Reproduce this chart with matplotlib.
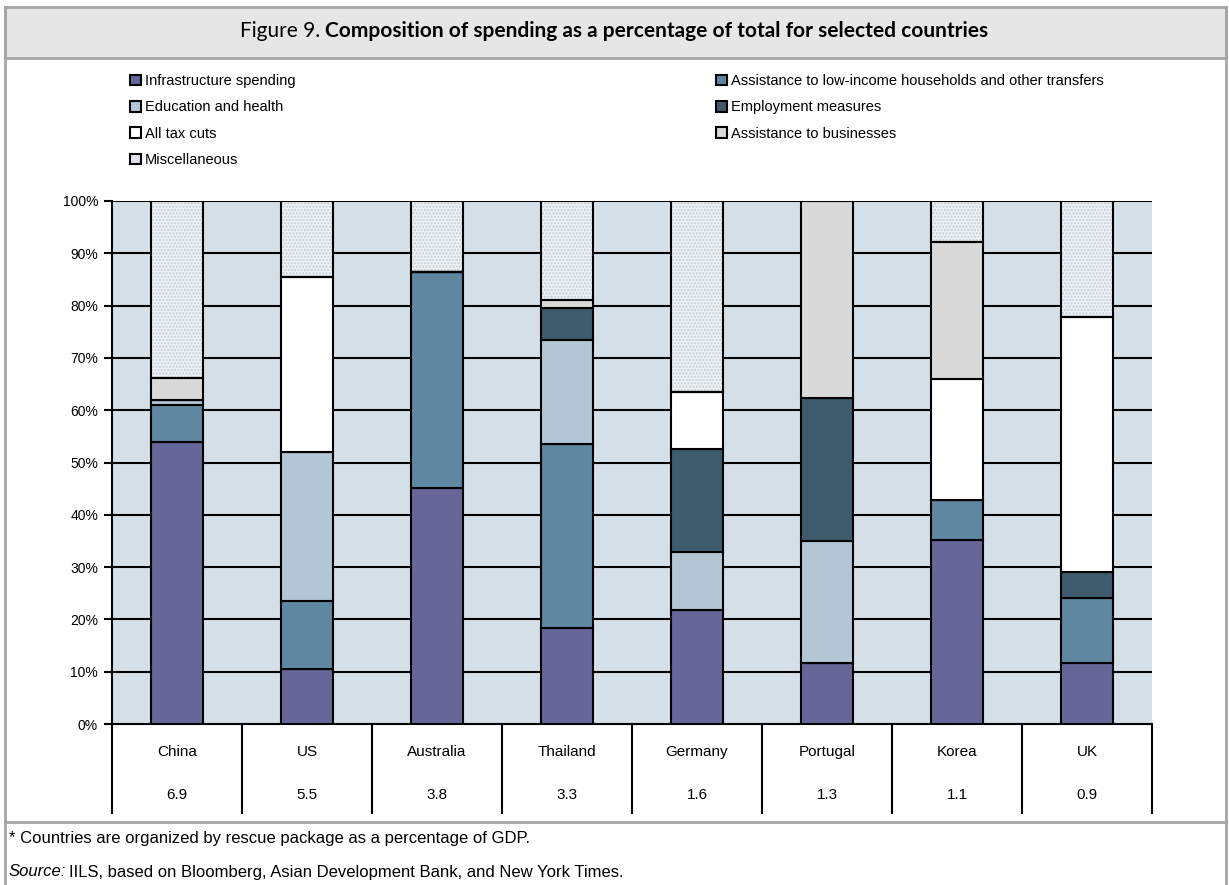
import numpy as np
import matplotlib.pyplot as plt
from matplotlib.patches import Rectangle, Patch
from matplotlib.lines import Line2D

W, H = 1229, 885

countries = ['China', 'US', 'Australia', 'Thailand', 'Germany', 'Portugal', 'Korea', 'UK']
gdp_share = ['6.9', '5.5', '3.8', '3.3', '1.6', '1.3', '1.1', '0.9']

# % of total package, bottom -> top
infrastructure = [54.0, 10.5, 45.2, 18.3, 21.8, 11.6, 35.2, 11.6]
low_income     = [7.0, 13.0, 41.3, 35.3, 0.0, 0.0, 7.6, 12.4]
education      = [1.0, 28.6, 0.0, 19.9, 11.0, 23.3, 0.0, 0.0]
employment     = [0.0, 0.0, 0.0, 6.0, 19.7, 27.5, 0.0, 5.0]
tax_cuts       = [0.0, 33.3, 0.0, 0.0, 10.9, 0.0, 23.1, 48.9]
businesses     = [4.1, 0.0, 0.0, 1.6, 0.0, 37.6, 26.3, 0.0]
misc           = [33.9, 14.6, 13.5, 18.9, 36.6, 0.0, 7.8, 22.1]

series = [
    ('Infrastructure spending', infrastructure, '#666699'),
    ('Assistance to low-income households and other transfers', low_income, '#5F87A1'),
    ('Education and health', education, '#B3C6D6'),
    ('Employment measures', employment, '#3E5A6D'),
    ('All tax cuts', tax_cuts, '#FFFFFF'),
    ('Assistance to businesses', businesses, '#D9D9D9'),
    ('Miscellaneous', misc, '#EDF1F4'),
]

narrow = ['Liberation Sans Narrow', 'Liberation Sans', 'DejaVu Sans']
arial = ['Liberation Sans', 'DejaVu Sans']


def fx(x):
    return x / W


def fy(y):
    return 1 - y / H


fig = plt.figure(figsize=(W / 100, H / 100), dpi=100)

# frame, title band and footnote separator
frame_c = '#A6A6A6'
fig.patches.append(Rectangle((fx(5), fy(58)), fx(1226) - fx(5), fy(7) - fy(58),
                             transform=fig.transFigure, facecolor='#E6E6E6',
                             edgecolor=frame_c, lw=2, zorder=0))
for x0, y0, x1, y1 in [(5, 7, 5, 885), (1226, 7, 1226, 885), (5, 822, 1226, 822)]:
    fig.add_artist(Line2D([fx(x0), fx(x1)], [fy(y0), fy(y1)], color=frame_c, lw=2,
                          transform=fig.transFigure))

# title: regular prefix + bold main part, centred together
t_font = ['Lato', 'DejaVu Sans']
t1 = fig.text(0, fy(31), 'Figure 9. ', fontsize=15, family=t_font, va='center')
t2 = fig.text(0, fy(31), 'Composition of spending as a percentage of total for selected countries',
              fontsize=15, family=t_font, fontweight='bold', va='center')
fig.canvas.draw()
r = fig.canvas.get_renderer()
w1 = t1.get_window_extent(r).width
w2 = t2.get_window_extent(r).width
x_start = (614 - (w1 + w2) / 2)
t1.set_x(fx(x_start))
t2.set_x(fx(x_start + w1))

ax = fig.add_axes([fx(112), fy(724), fx(1152) - fx(112), fy(201) - fy(724)])
ax.set_facecolor('#D5DFE8')
x = np.arange(len(countries))
ax.set_xlim(-0.5, len(countries) - 0.5)
ax.set_ylim(0, 100)

for yv in range(10, 101, 10):
    ax.axhline(yv, color='black', lw=1.5, zorder=1)

bottom = np.zeros(len(countries))
for name, vals, col in series:
    vals = np.array(vals)
    if name == 'Miscellaneous':
        ax.bar(x, vals, 0.4, bottom=bottom, color=col, edgecolor='#C3CDD6',
               hatch='.....', lw=0, zorder=2)
        ax.bar(x, vals, 0.4, bottom=bottom, fill=False, edgecolor='black', lw=1.5, zorder=3)
    else:
        ax.bar(x, vals, 0.4, bottom=bottom, color=col, edgecolor='black', lw=1.5, zorder=3)
    bottom += vals

ax.set_yticks(range(0, 101, 10))
ax.set_yticklabels([f'{v}%' for v in range(0, 101, 10)], family=arial, fontsize=10)
ax.tick_params(axis='y', direction='out', length=6, width=1.5, color='black', pad=4)
ax.set_xticks([])
for s in ['top', 'right']:
    ax.spines[s].set_visible(False)
for s in ['left', 'bottom']:
    ax.spines[s].set_linewidth(1.5)
    ax.spines[s].set_color('black')

# data table under the axis
tr = ax.get_xaxis_transform()
for b in np.arange(-0.5, len(countries), 1.0):
    ax.plot([b, b], [0, -0.17], transform=tr, color='black', lw=1.5, clip_on=False)
for i, (c, g) in enumerate(zip(countries, gdp_share)):
    ax.text(i, -0.054, c, transform=tr, ha='center', va='center', family=arial, fontsize=11)
    ax.text(i, -0.136, g, transform=tr, ha='center', va='center', family=arial, fontsize=11)

# legend, two columns
handles = [Patch(facecolor=('#DDE3E8' if name == 'Miscellaneous' else col),
                 edgecolor='black', lw=1.5, label=name)
           for name, vals, col in series]
leg_kw = dict(frameon=False, prop={'family': narrow, 'size': 10.5}, handlelength=0.75,
              handleheight=0.75, handletextpad=0.25, labelspacing=0.85, borderaxespad=0,
              borderpad=0, loc='upper left')
leg1 = fig.legend(handles=[handles[i] for i in (0, 2, 4, 6)], bbox_to_anchor=(fx(130), fy(74)), **leg_kw)
leg2 = fig.legend(handles=[handles[i] for i in (1, 3, 5)], bbox_to_anchor=(fx(716), fy(74)), **leg_kw)

# footnote
fig.text(fx(9), fy(838), '* Countries are organized by rescue package as a percentage of GDP.',
         family=narrow, fontsize=12, va='center')
s1 = fig.text(fx(9), fy(872), 'Source:', family=narrow, fontsize=12, va='center', style='italic')
fig.canvas.draw()
ws = s1.get_window_extent(fig.canvas.get_renderer()).width
fig.text(fx(9 + ws + 3), fy(872), 'IILS, based on Bloomberg, Asian Development Bank, and New York Times.',
         family=narrow, fontsize=12, va='center')

fig.savefig('out.png', dpi=100)
